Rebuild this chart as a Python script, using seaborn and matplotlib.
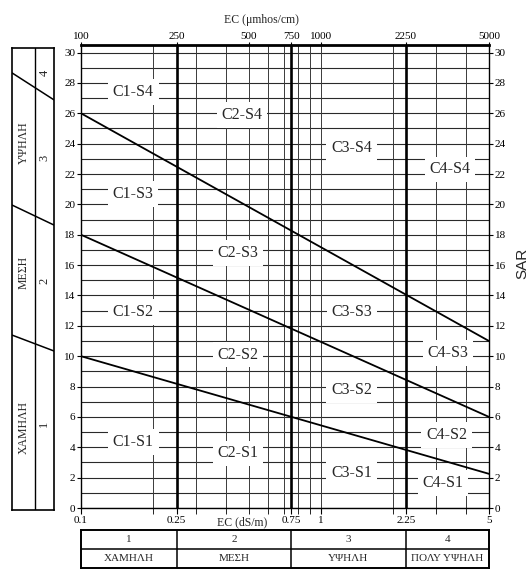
import numpy as np
import pandas as pd
import matplotlib
matplotlib.use("Agg")
import matplotlib.pyplot as plt
import seaborn as sns

# ---- data -------------------------------------------------------------
ec_range = [0.1, 5.0]                       # EC (dS/m) at left / right edge
sar_s4_s3 = [26.0, 11.0]                    # SAR boundary S4/S3 at the two edges
sar_s3_s2 = [18.0, 6.0]                     # SAR boundary S3/S2
sar_s2_s1 = [10.0, 2.25]                    # SAR boundary S2/S1
class_limits = [0.25, 0.75, 2.25]           # salinity class limits (dS/m)
ec_grid = [0.2, 0.3, 0.4, 0.5, 0.6, 0.7, 0.8, 0.9, 1, 2, 3, 4]
sar_grid = list(range(0, 31))
sar_ticks = list(range(0, 31, 2))
bottom_ticks = [0.1, 0.25, 0.75, 1, 2.25, 5]
bottom_labels = ["0.1", "0.25", "0.75", "1", "2.25", "5"]
top_ticks = [0.1, 0.25, 0.5, 0.75, 1, 2.25, 5]
top_labels = ["100", "250", "500", "750", "1000", "2250", "5000"]
zone_names = ["C1-S4", "C2-S4", "C3-S4", "C4-S4",
              "C1-S3", "C2-S3", "C3-S3", "C4-S3",
              "C1-S2", "C2-S2", "C3-S2", "C4-S2",
              "C1-S1", "C2-S1", "C3-S1", "C4-S1"]
salinity_classes = ["1", "2", "3", "4"]
salinity_names = ["ΧΑΜΗΛΗ", "ΜΕΣΗ", "ΥΨΗΛΗ", "ΠΟΛΥ ΥΨΗΛΗ"]
sodium_classes = ["4", "3", "2", "1"]
sodium_names = ["ΥΨΗΛΗ", "ΜΕΣΗ", "ΧΑΜΗΛΗ"]

# ---- layout -----------------------------------------------------------
zone_pos = [(0.165, 27.4), (0.468, 25.9), (1.34, 23.7), (3.44, 22.3),
            (0.165, 20.7), (0.45, 16.8), (1.34, 12.9), (3.37, 10.2),
            (0.165, 12.9), (0.45, 10.1), (1.34, 7.75), (3.33, 4.8),
            (0.165, 4.35), (0.45, 3.6), (1.34, 2.3), (3.22, 1.65)]
left_lines = [([0, 1], [28.68, 26.9]), ([0, 1], [19.97, 18.65]), ([0, 1], [11.4, 10.35])]
left_class_y = [28.7, 23.07, 14.96, 5.54]
left_name_y = [24.06, 15.5, 5.34]

sns.set_theme(style="white")
plt.rcParams["font.family"] = ["Liberation Serif", "DejaVu Serif"]
plt.rcParams["axes.edgecolor"] = "black"

W, H = 529, 569


def rect(l, t, r, b):
    return [l / W, 1 - b / H, (r - l) / W, (b - t) / H]


fig = plt.figure(figsize=(W / 100, H / 100), dpi=100)
fig.patch.set_facecolor("white")

# ---- main diagram -------------------------------------------------------
ax = fig.add_axes(rect(81, 45, 489, 508))
ax.set_xscale("log")
ax.set_xlim(*ec_range)
ax.set_ylim(0, 30.5)

for y in sar_grid:
    ax.axhline(y, color="#2a2a2a", lw=0.8, zorder=1)
for x in ec_grid:
    ax.axvline(x, color="#3a3a3a", lw=0.7, zorder=1)
for x in class_limits:
    ax.axvline(x, color="black", lw=1.9, zorder=2)

bounds = pd.DataFrame({
    "ec": ec_range * 3,
    "sar": sar_s4_s3 + sar_s3_s2 + sar_s2_s1,
    "boundary": ["S4/S3"] * 2 + ["S3/S2"] * 2 + ["S2/S1"] * 2,
})
sns.lineplot(data=bounds, x="ec", y="sar", hue="boundary",
             palette=["black"] * 3, legend=False, lw=1.3, ax=ax, zorder=3)

for name, (x, y) in zip(zone_names, zone_pos):
    ax.text(x, y, name, ha="center", va="center", fontsize=11.5, zorder=4,
            bbox=dict(boxstyle="square,pad=0.3", fc="white", ec="none"))

ax.set_xlabel("")
ax.set_ylabel("")
ax.set_yticks(sar_ticks)
ax.set_yticklabels([str(v) for v in sar_ticks])
ax.set_xticks(bottom_ticks)
ax.set_xticklabels(bottom_labels)
ax.xaxis.set_minor_locator(matplotlib.ticker.FixedLocator(ec_grid))
ax.xaxis.set_minor_formatter(matplotlib.ticker.NullFormatter())
ax.tick_params(axis="y", which="both", left=True, right=True, labelleft=True,
               labelright=True, length=3, width=0.8, pad=1, labelsize=8,
               direction="out", colors="black")
ax.tick_params(axis="x", which="major", bottom=True, length=4, width=0.8,
               pad=2, labelsize=8, direction="out", colors="black")
ax.tick_params(axis="x", which="minor", bottom=True, length=4, width=0.6,
               direction="out", colors="black")
for s in ["left", "right", "bottom"]:
    ax.spines[s].set_linewidth(1.0)
ax.spines["top"].set_linewidth(2.0)

ax.annotate("EC (dS/m)", xy=(0.47, 0), xycoords=("data", "axes fraction"),
            xytext=(0, -6), textcoords="offset points", ha="center", va="top",
            fontsize=8.5)

# top axis in μmhos/cm
ax2 = ax.twiny()
ax2.set_xscale("log")
ax2.set_xlim(*ec_range)
ax2.set_xticks(top_ticks)
ax2.set_xticklabels(top_labels)
ax2.xaxis.set_minor_locator(matplotlib.ticker.NullLocator())
ax2.tick_params(axis="x", length=2, width=0.8, pad=1, labelsize=8,
                direction="out", colors="black")
ax2.grid(False)
for s in ax2.spines.values():
    s.set_visible(False)
fig.text(261 / W, 1 - 20 / H, "EC (μmhos/cm)", ha="center", va="center",
         fontsize=8.5)

fig.text(522 / W, 1 - 263 / H, "SAR", rotation=90, ha="center", va="center",
         fontsize=11, family=["Liberation Sans", "DejaVu Sans"])

# ---- sodium hazard strip (left) --------------------------------------
axl = fig.add_axes(rect(12, 48, 54, 510))
axl.set_xlim(0, 1)
axl.set_ylim(-0.13, 30.32)
axl.set_xticks([])
axl.set_yticks([])
axl.axvline(0.548, color="black", lw=1.0)
for xs, ys in left_lines:
    sns.lineplot(x=xs, y=ys, color="black", lw=1.1, ax=axl)
for lab, y in zip(sodium_classes, left_class_y):
    axl.text(0.77, y, lab, rotation=90, ha="center", va="center", fontsize=9)
for lab, y in zip(sodium_names, left_name_y):
    axl.text(0.27, y, lab, rotation=90, ha="center", va="center", fontsize=8.5)
for s in axl.spines.values():
    s.set_linewidth(1.2)

# ---- salinity hazard table (bottom) -------------------------------------
axt = fig.add_axes(rect(81, 530, 489, 568))
axt.set_xscale("log")
axt.set_xlim(*ec_range)
axt.set_ylim(0, 1)
axt.set_xticks([])
axt.set_yticks([])
axt.xaxis.set_minor_locator(matplotlib.ticker.NullLocator())
axt.axhline(0.5, color="black", lw=1.1)
for x in class_limits:
    axt.axvline(x, color="black", lw=1.1)
edges = [ec_range[0]] + class_limits + [ec_range[1]]
for i, (num, name) in enumerate(zip(salinity_classes, salinity_names)):
    xc = np.sqrt(edges[i] * edges[i + 1])
    axt.text(xc, 0.75, num, ha="center", va="center", fontsize=8)
    axt.text(xc, 0.25, name, ha="center", va="center", fontsize=8)
for s in axt.spines.values():
    s.set_linewidth(1.4)

fig.savefig("out.png", dpi=100, facecolor="white")
